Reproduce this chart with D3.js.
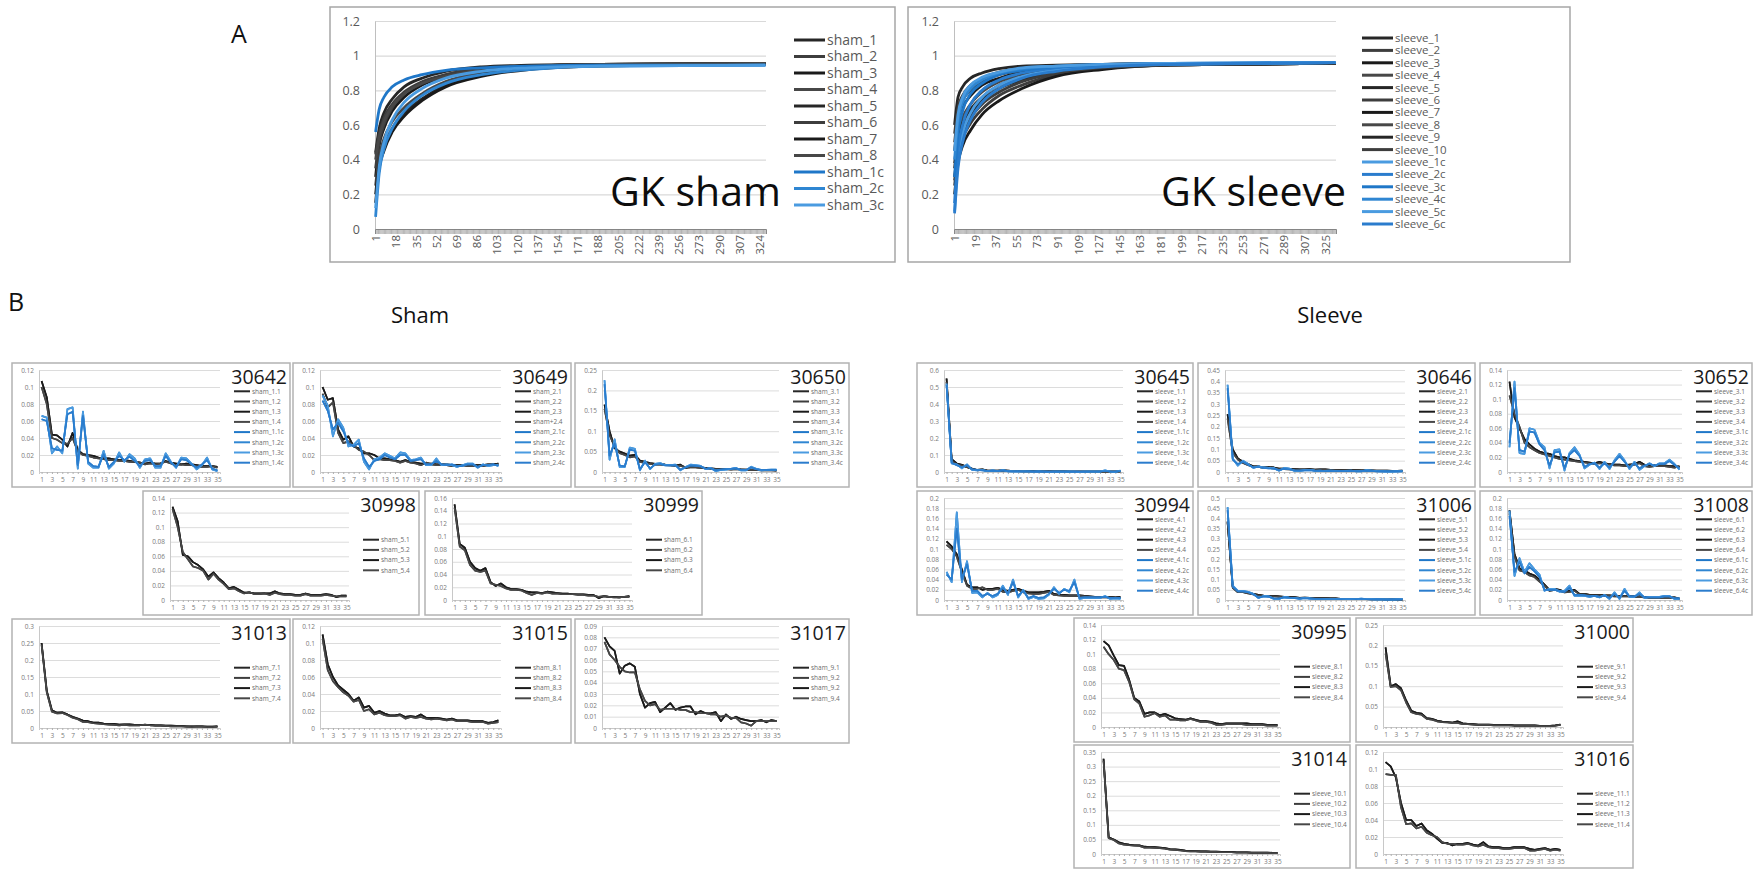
<!DOCTYPE html>
<html>
<head>
<meta charset="utf-8">
<script src="https://cdn.jsdelivr.net/npm/d3@7"></script>
<style>
 body { margin:0; background:#fff; }
 text { font-family: 'Open Sans', sans-serif; }
</style>
</head>
<body>
<svg id="fig" width="1753" height="869"></svg>
<script>

// ---------- A: cumulative curves, values read at knot positions ----------
const shamKnots   = [1,4,8,15,25,40,60,90,130,190,329];
const sleeveKnots = [1,4,8,15,25,40,60,90,130,190,334];
const shamXLabels   = d3.range(1, 330, 17);
const sleeveXLabels = d3.range(1, 335, 18);
const aYTicks = [0, 0.2, 0.4, 0.6, 0.8, 1, 1.2];

const shamNames = ['sham_1','sham_2','sham_3','sham_4','sham_5','sham_6','sham_7','sham_8','sham_1c','sham_2c','sham_3c'];
const sham_1  = [0.44,0.58,0.67,0.75,0.82,0.87,0.91,0.935,0.945,0.95,0.955];
const sham_2  = [0.43,0.55,0.64,0.72,0.79,0.85,0.89,0.925,0.94,0.95,0.955];
const sham_3  = [0.30,0.48,0.58,0.68,0.76,0.83,0.88,0.92,0.94,0.95,0.955];
const sham_4  = [0.25,0.42,0.52,0.62,0.70,0.78,0.85,0.90,0.93,0.945,0.95];
const sham_5  = [0.20,0.38,0.48,0.58,0.67,0.75,0.83,0.89,0.925,0.945,0.95];
const sham_6  = [0.35,0.50,0.60,0.70,0.78,0.84,0.89,0.925,0.94,0.95,0.955];
const sham_7  = [0.15,0.35,0.45,0.56,0.65,0.74,0.82,0.88,0.92,0.94,0.95];
const sham_8  = [0.40,0.53,0.62,0.71,0.78,0.84,0.88,0.92,0.94,0.95,0.955];
const sham_1c = [0.56,0.69,0.76,0.82,0.86,0.89,0.915,0.93,0.94,0.945,0.945];
const sham_2c = [0.07,0.32,0.46,0.58,0.68,0.77,0.84,0.89,0.92,0.94,0.945];
const sham_3c = [0.12,0.36,0.50,0.63,0.73,0.81,0.87,0.91,0.93,0.94,0.945];

const sleeveNames = ['sleeve_1','sleeve_2','sleeve_3','sleeve_4','sleeve_5','sleeve_6','sleeve_7','sleeve_8','sleeve_9','sleeve_10',
  'sleeve_1c','sleeve_2c','sleeve_3c','sleeve_4c','sleeve_5c','sleeve_6c'];
const sleeve_1  = [0.60,0.76,0.82,0.87,0.90,0.925,0.94,0.945,0.95,0.955,0.955];
const sleeve_2  = [0.55,0.70,0.77,0.83,0.87,0.905,0.925,0.94,0.95,0.955,0.955];
const sleeve_3  = [0.45,0.62,0.70,0.77,0.83,0.87,0.905,0.93,0.945,0.95,0.955];
const sleeve_4  = [0.38,0.55,0.64,0.72,0.79,0.85,0.89,0.925,0.94,0.95,0.955];
const sleeve_5  = [0.30,0.47,0.57,0.66,0.74,0.81,0.86,0.91,0.935,0.95,0.955];
const sleeve_6  = [0.25,0.42,0.52,0.61,0.69,0.77,0.83,0.89,0.925,0.945,0.955];
const sleeve_7  = [0.20,0.38,0.48,0.57,0.66,0.74,0.81,0.88,0.92,0.945,0.955];
const sleeve_8  = [0.50,0.66,0.74,0.80,0.85,0.89,0.915,0.935,0.945,0.95,0.955];
const sleeve_9  = [0.35,0.52,0.61,0.69,0.76,0.83,0.875,0.915,0.94,0.95,0.955];
const sleeve_10 = [0.28,0.45,0.55,0.64,0.72,0.79,0.85,0.90,0.93,0.945,0.955];
const sleeve_1c = [0.10,0.40,0.55,0.67,0.76,0.83,0.88,0.92,0.94,0.95,0.96];
const sleeve_2c = [0.15,0.45,0.60,0.72,0.80,0.86,0.90,0.93,0.945,0.95,0.96];
const sleeve_3c = [0.30,0.55,0.68,0.78,0.84,0.89,0.915,0.935,0.945,0.955,0.96];
const sleeve_4c = [0.40,0.62,0.73,0.81,0.86,0.90,0.925,0.94,0.95,0.955,0.96];
const sleeve_5c = [0.45,0.66,0.76,0.83,0.875,0.905,0.93,0.94,0.95,0.955,0.96];
const sleeve_6c = [0.09,0.35,0.50,0.63,0.73,0.81,0.87,0.91,0.935,0.95,0.96];

// ---------- B: per-animal profiles, 35 points each ----------
const cats35 = d3.range(1, 36);
const bXLabels = d3.range(1, 36, 2);

// sham
const s30642_k1 = [0.107,0.088,0.044,0.043,0.038,0.030,0.046,0.026,0.021,0.020,0.019,0.017,0.016,0.016,0.015,0.014,0.014,0.013,0.012,0.011,0.010,0.011,0.010,0.010,0.013,0.011,0.010,0.009,0.010,0.009,0.008,0.007,0.007,0.007,0.006];
const s30642_k2 = [0.100,0.080,0.040,0.038,0.034,0.033,0.040,0.024,0.020,0.019,0.017,0.016,0.015,0.014,0.014,0.013,0.013,0.012,0.012,0.011,0.009,0.010,0.009,0.010,0.012,0.010,0.008,0.009,0.008,0.008,0.007,0.006,0.006,0.007,0.005];
const s30642_b1 = [0.066,0.064,0.022,0.030,0.022,0.074,0.076,0.004,0.071,0.010,0.005,0.005,0.025,0.004,0.010,0.023,0.012,0.021,0.016,0.005,0.015,0.016,0.005,0.005,0.022,0.012,0.005,0.017,0.016,0.010,0.003,0.008,0.017,0.003,0.001];
const s30642_b2 = [0.062,0.060,0.028,0.026,0.025,0.068,0.071,0.008,0.066,0.012,0.007,0.006,0.021,0.006,0.012,0.019,0.014,0.018,0.013,0.007,0.013,0.014,0.007,0.007,0.019,0.011,0.006,0.015,0.014,0.009,0.005,0.009,0.014,0.004,0.002];

const s30649_k1 = [0.100,0.085,0.087,0.050,0.038,0.042,0.030,0.028,0.022,0.022,0.020,0.016,0.016,0.015,0.014,0.012,0.014,0.012,0.011,0.010,0.010,0.010,0.009,0.009,0.009,0.008,0.008,0.008,0.008,0.008,0.008,0.008,0.009,0.009,0.010];
const s30649_k2 = [0.092,0.076,0.082,0.046,0.034,0.036,0.031,0.026,0.024,0.020,0.014,0.015,0.014,0.014,0.013,0.011,0.013,0.011,0.010,0.008,0.011,0.009,0.008,0.008,0.008,0.007,0.007,0.008,0.007,0.007,0.007,0.007,0.008,0.008,0.009];
const s30649_b1 = [0.090,0.078,0.042,0.062,0.052,0.030,0.032,0.038,0.012,0.003,0.015,0.017,0.022,0.019,0.016,0.023,0.022,0.014,0.015,0.017,0.008,0.008,0.016,0.008,0.009,0.008,0.006,0.008,0.010,0.010,0.005,0.009,0.007,0.008,0.008];
const s30649_b2 = [0.084,0.072,0.050,0.058,0.048,0.034,0.030,0.034,0.016,0.006,0.013,0.015,0.020,0.017,0.015,0.020,0.020,0.013,0.014,0.015,0.009,0.009,0.013,0.009,0.008,0.009,0.007,0.007,0.009,0.009,0.006,0.008,0.008,0.009,0.007];

const s30650_k1 = [0.165,0.100,0.058,0.050,0.045,0.040,0.042,0.028,0.025,0.022,0.020,0.020,0.018,0.017,0.016,0.018,0.010,0.012,0.012,0.011,0.010,0.009,0.008,0.008,0.007,0.007,0.008,0.006,0.006,0.006,0.005,0.005,0.005,0.005,0.004];
const s30650_k2 = [0.155,0.090,0.062,0.046,0.042,0.036,0.038,0.025,0.022,0.020,0.018,0.018,0.017,0.016,0.015,0.015,0.012,0.011,0.011,0.010,0.009,0.008,0.007,0.007,0.007,0.006,0.007,0.006,0.005,0.005,0.005,0.004,0.004,0.004,0.003];
const s30650_b1 = [0.225,0.030,0.080,0.012,0.012,0.060,0.057,0.004,0.028,0.007,0.020,0.022,0.017,0.017,0.018,0.004,0.012,0.018,0.017,0.015,0.007,0.010,0.002,0.005,0.006,0.008,0.010,0.004,0.004,0.013,0.008,0.004,0.005,0.006,0.006];
const s30650_b2 = [0.215,0.040,0.070,0.016,0.014,0.055,0.052,0.007,0.024,0.009,0.018,0.020,0.016,0.016,0.017,0.006,0.011,0.016,0.015,0.014,0.008,0.009,0.004,0.006,0.007,0.008,0.009,0.005,0.005,0.011,0.007,0.005,0.005,0.005,0.005];

const s30998_k1 = [0.128,0.108,0.062,0.060,0.052,0.048,0.042,0.032,0.038,0.030,0.024,0.016,0.018,0.014,0.010,0.010,0.009,0.009,0.009,0.009,0.012,0.009,0.008,0.008,0.007,0.007,0.009,0.007,0.007,0.007,0.008,0.007,0.004,0.006,0.006];
const s30998_k2 = [0.125,0.100,0.066,0.056,0.046,0.044,0.040,0.028,0.036,0.028,0.022,0.015,0.016,0.012,0.009,0.011,0.008,0.008,0.009,0.007,0.010,0.008,0.007,0.007,0.006,0.006,0.008,0.006,0.006,0.006,0.007,0.006,0.005,0.005,0.005];

const s30999_k1 = [0.150,0.088,0.082,0.060,0.050,0.046,0.050,0.028,0.022,0.026,0.020,0.017,0.017,0.016,0.013,0.012,0.012,0.011,0.013,0.012,0.011,0.010,0.010,0.009,0.009,0.009,0.008,0.008,0.003,0.006,0.005,0.005,0.004,0.005,0.006];
const s30999_k2 = [0.145,0.084,0.078,0.055,0.046,0.044,0.046,0.026,0.024,0.022,0.018,0.016,0.016,0.015,0.011,0.008,0.011,0.010,0.012,0.010,0.010,0.009,0.009,0.009,0.008,0.008,0.007,0.007,0.005,0.006,0.005,0.004,0.004,0.005,0.005];

const s31013_k1 = [0.250,0.110,0.052,0.045,0.046,0.040,0.033,0.028,0.022,0.020,0.016,0.016,0.013,0.012,0.012,0.010,0.011,0.011,0.009,0.009,0.009,0.009,0.008,0.008,0.007,0.007,0.006,0.006,0.005,0.005,0.005,0.005,0.004,0.004,0.005];
const s31013_k2 = [0.245,0.105,0.048,0.043,0.044,0.038,0.030,0.026,0.018,0.017,0.014,0.013,0.011,0.010,0.009,0.008,0.009,0.008,0.008,0.008,0.010,0.008,0.007,0.007,0.006,0.005,0.005,0.005,0.004,0.003,0.004,0.004,0.003,0.003,0.004];

const s31015_k1 = [0.110,0.075,0.060,0.050,0.045,0.040,0.032,0.036,0.024,0.026,0.018,0.020,0.017,0.015,0.015,0.016,0.013,0.014,0.013,0.016,0.012,0.012,0.012,0.011,0.010,0.011,0.009,0.009,0.009,0.008,0.008,0.008,0.006,0.007,0.009];
const s31015_k2 = [0.105,0.068,0.055,0.048,0.042,0.038,0.031,0.033,0.020,0.022,0.016,0.018,0.015,0.014,0.014,0.015,0.011,0.013,0.012,0.013,0.011,0.010,0.011,0.010,0.009,0.010,0.008,0.008,0.008,0.007,0.007,0.007,0.005,0.006,0.007];

const s31017_k1 = [0.080,0.072,0.068,0.048,0.055,0.057,0.054,0.030,0.018,0.022,0.023,0.014,0.018,0.022,0.016,0.018,0.019,0.019,0.012,0.015,0.013,0.013,0.014,0.006,0.012,0.008,0.010,0.008,0.007,0.006,0.006,0.007,0.005,0.007,0.006];
const s31017_k2 = [0.076,0.065,0.060,0.054,0.050,0.049,0.049,0.034,0.024,0.020,0.021,0.016,0.017,0.017,0.017,0.016,0.016,0.014,0.014,0.013,0.013,0.012,0.012,0.010,0.011,0.009,0.009,0.005,0.004,0.002,0.006,0.006,0.006,0.006,0.006];

// sleeve
const s30645_k1 = [0.550,0.075,0.050,0.042,0.030,0.020,0.012,0.015,0.008,0.008,0.008,0.010,0.008,0.006,0.006,0.005,0.005,0.005,0.006,0.004,0.004,0.004,0.004,0.004,0.003,0.003,0.003,0.003,0.003,0.003,0.003,0.003,0.003,0.003,0.004];
const s30645_k2 = [0.530,0.065,0.045,0.038,0.028,0.018,0.010,0.012,0.007,0.007,0.007,0.008,0.007,0.005,0.005,0.004,0.004,0.004,0.005,0.003,0.003,0.003,0.003,0.003,0.002,0.002,0.002,0.002,0.002,0.002,0.002,0.002,0.002,0.002,0.003];
const s30645_b1 = [0.520,0.050,0.045,0.022,0.045,0.012,0.010,0.012,0.005,0.010,0.006,0.012,0.004,0.004,0.003,0.004,0.003,0.003,0.004,0.003,0.001,0.003,0.002,0.003,0.002,0.003,0.001,0.003,0.002,0.002,0.002,0.010,0.002,0.001,0.008];
const s30645_b2 = [0.510,0.055,0.040,0.028,0.040,0.015,0.012,0.010,0.006,0.008,0.005,0.010,0.005,0.003,0.004,0.003,0.004,0.002,0.003,0.002,0.002,0.002,0.003,0.002,0.003,0.002,0.002,0.002,0.003,0.003,0.003,0.006,0.003,0.002,0.006];

const s30646_k1 = [0.255,0.100,0.060,0.045,0.035,0.025,0.025,0.020,0.022,0.020,0.015,0.015,0.014,0.013,0.012,0.012,0.013,0.011,0.012,0.012,0.010,0.009,0.008,0.009,0.009,0.008,0.007,0.007,0.007,0.006,0.006,0.006,0.005,0.005,0.006];
const s30646_k2 = [0.235,0.085,0.055,0.040,0.030,0.023,0.022,0.018,0.018,0.016,0.013,0.013,0.012,0.011,0.010,0.010,0.010,0.009,0.010,0.010,0.008,0.008,0.007,0.008,0.007,0.007,0.006,0.006,0.005,0.005,0.005,0.005,0.004,0.004,0.005];
const s30646_b1 = [0.385,0.060,0.028,0.050,0.035,0.018,0.025,0.020,0.018,0.018,0.005,0.018,0.015,0.005,0.005,0.008,0.010,0.006,0.005,0.005,0.006,0.005,0.004,0.005,0.006,0.003,0.003,0.008,0.006,0.004,0.003,0.002,0.002,0.003,0.004];
const s30646_b2 = [0.370,0.055,0.035,0.045,0.032,0.020,0.022,0.018,0.016,0.015,0.008,0.015,0.012,0.007,0.006,0.007,0.008,0.005,0.006,0.004,0.005,0.004,0.005,0.004,0.005,0.004,0.004,0.006,0.005,0.003,0.004,0.003,0.003,0.004,0.003];

const s30652_k1 = [0.124,0.075,0.060,0.045,0.038,0.032,0.028,0.026,0.025,0.022,0.020,0.020,0.018,0.016,0.015,0.014,0.013,0.012,0.014,0.012,0.011,0.010,0.010,0.009,0.010,0.011,0.014,0.010,0.008,0.009,0.009,0.009,0.008,0.008,0.007];
const s30652_k2 = [0.105,0.080,0.062,0.040,0.034,0.030,0.026,0.024,0.022,0.020,0.018,0.017,0.016,0.015,0.014,0.013,0.012,0.011,0.012,0.011,0.010,0.009,0.009,0.008,0.009,0.010,0.012,0.008,0.007,0.008,0.008,0.008,0.007,0.006,0.008];
const s30652_b1 = [0.034,0.124,0.026,0.025,0.060,0.058,0.040,0.034,0.005,0.030,0.031,0.002,0.026,0.034,0.024,0.005,0.010,0.013,0.004,0.014,0.004,0.016,0.025,0.016,0.004,0.014,0.003,0.008,0.012,0.008,0.012,0.012,0.017,0.011,0.003];
const s30652_b2 = [0.040,0.115,0.030,0.028,0.056,0.054,0.038,0.030,0.009,0.027,0.028,0.005,0.024,0.030,0.022,0.007,0.011,0.012,0.006,0.012,0.006,0.014,0.022,0.014,0.006,0.012,0.005,0.009,0.011,0.009,0.011,0.011,0.015,0.010,0.005];

const s30994_k1 = [0.115,0.105,0.090,0.060,0.030,0.025,0.025,0.020,0.022,0.022,0.024,0.020,0.018,0.020,0.022,0.018,0.015,0.015,0.015,0.016,0.018,0.012,0.010,0.010,0.009,0.009,0.009,0.008,0.007,0.006,0.006,0.006,0.006,0.005,0.006];
const s30994_k2 = [0.108,0.100,0.085,0.055,0.028,0.022,0.022,0.025,0.020,0.020,0.022,0.016,0.015,0.018,0.020,0.015,0.013,0.012,0.012,0.014,0.016,0.010,0.009,0.008,0.008,0.008,0.008,0.007,0.006,0.005,0.005,0.005,0.005,0.004,0.004];
const s30994_b1 = [0.055,0.035,0.172,0.035,0.076,0.014,0.015,0.005,0.014,0.005,0.010,0.028,0.010,0.040,0.005,0.020,0.002,0.006,0.002,0.003,0.010,0.025,0.012,0.022,0.015,0.040,0.002,0.004,0.004,0.004,0.004,0.008,0.002,0.003,0.002];
const s30994_b2 = [0.050,0.040,0.140,0.040,0.070,0.018,0.018,0.008,0.012,0.008,0.012,0.024,0.013,0.035,0.008,0.018,0.004,0.008,0.004,0.005,0.012,0.022,0.014,0.020,0.018,0.035,0.004,0.005,0.005,0.005,0.005,0.006,0.004,0.004,0.004];

const s31006_k1 = [0.385,0.065,0.040,0.040,0.035,0.030,0.025,0.022,0.020,0.020,0.018,0.016,0.015,0.014,0.010,0.012,0.010,0.010,0.009,0.009,0.008,0.008,0.006,0.006,0.006,0.005,0.005,0.005,0.004,0.004,0.004,0.003,0.003,0.003,0.003];
const s31006_k2 = [0.380,0.060,0.038,0.038,0.032,0.028,0.022,0.020,0.018,0.018,0.016,0.014,0.013,0.012,0.008,0.010,0.009,0.009,0.008,0.008,0.007,0.007,0.005,0.005,0.005,0.004,0.004,0.004,0.003,0.003,0.003,0.002,0.002,0.002,0.002];
const s31006_b1 = [0.455,0.070,0.045,0.045,0.040,0.030,0.010,0.020,0.018,0.005,0.005,0.015,0.012,0.010,0.006,0.010,0.008,0.006,0.005,0.006,0.006,0.005,0.005,0.004,0.004,0.004,0.007,0.004,0.004,0.003,0.003,0.003,0.002,0.003,0.004];
const s31006_b2 = [0.440,0.065,0.042,0.042,0.038,0.028,0.012,0.018,0.016,0.008,0.007,0.013,0.011,0.009,0.007,0.009,0.007,0.006,0.006,0.005,0.005,0.005,0.004,0.005,0.005,0.004,0.006,0.004,0.003,0.004,0.003,0.002,0.003,0.003,0.003];

const s31008_k1 = [0.176,0.090,0.062,0.058,0.052,0.048,0.040,0.030,0.020,0.022,0.020,0.016,0.018,0.020,0.012,0.012,0.010,0.010,0.010,0.009,0.009,0.008,0.008,0.008,0.008,0.007,0.007,0.006,0.005,0.005,0.005,0.005,0.005,0.005,0.003];
const s31008_k2 = [0.170,0.085,0.058,0.055,0.048,0.045,0.036,0.028,0.018,0.020,0.018,0.015,0.016,0.018,0.011,0.011,0.009,0.009,0.009,0.008,0.008,0.007,0.007,0.007,0.007,0.006,0.006,0.005,0.004,0.004,0.004,0.004,0.004,0.004,0.002];
const s31008_b1 = [0.175,0.047,0.082,0.055,0.072,0.060,0.050,0.018,0.022,0.022,0.016,0.018,0.028,0.008,0.008,0.008,0.006,0.008,0.005,0.010,0.002,0.015,0.002,0.022,0.006,0.006,0.015,0.004,0.006,0.006,0.006,0.008,0.008,0.002,0.002];
const s31008_b2 = [0.165,0.055,0.075,0.052,0.065,0.056,0.045,0.020,0.020,0.020,0.018,0.016,0.024,0.010,0.010,0.009,0.007,0.008,0.006,0.009,0.004,0.012,0.004,0.018,0.007,0.007,0.012,0.005,0.005,0.005,0.005,0.007,0.007,0.003,0.003];

const s30995_k1 = [0.118,0.112,0.098,0.085,0.084,0.065,0.040,0.035,0.018,0.020,0.020,0.016,0.018,0.015,0.012,0.011,0.010,0.012,0.010,0.008,0.008,0.007,0.005,0.004,0.005,0.005,0.005,0.005,0.005,0.004,0.004,0.004,0.003,0.003,0.003];
const s30995_k2 = [0.110,0.100,0.092,0.080,0.078,0.062,0.038,0.032,0.014,0.016,0.019,0.014,0.016,0.010,0.010,0.009,0.009,0.011,0.009,0.007,0.007,0.006,0.003,0.003,0.004,0.004,0.004,0.004,0.003,0.003,0.003,0.003,0.002,0.002,0.002];

const s31000_k1 = [0.195,0.100,0.105,0.095,0.065,0.040,0.035,0.033,0.022,0.020,0.016,0.013,0.012,0.011,0.014,0.009,0.008,0.007,0.006,0.006,0.006,0.005,0.005,0.005,0.005,0.004,0.004,0.004,0.004,0.004,0.003,0.003,0.003,0.004,0.006];
const s31000_k2 = [0.180,0.098,0.100,0.090,0.060,0.036,0.032,0.030,0.020,0.018,0.014,0.012,0.011,0.010,0.010,0.007,0.007,0.006,0.005,0.005,0.005,0.004,0.004,0.004,0.004,0.003,0.003,0.003,0.003,0.003,0.002,0.002,0.002,0.003,0.005];

const s31014_k1 = [0.327,0.057,0.050,0.040,0.035,0.032,0.030,0.030,0.025,0.024,0.024,0.022,0.020,0.017,0.016,0.014,0.012,0.011,0.010,0.009,0.009,0.008,0.008,0.007,0.007,0.007,0.006,0.006,0.006,0.005,0.005,0.005,0.005,0.004,0.004];
const s31014_k2 = [0.320,0.054,0.048,0.036,0.032,0.030,0.029,0.028,0.022,0.022,0.021,0.020,0.018,0.015,0.014,0.012,0.010,0.009,0.009,0.008,0.008,0.007,0.007,0.006,0.006,0.006,0.005,0.005,0.005,0.004,0.004,0.004,0.004,0.003,0.003];

const s31016_k1 = [0.108,0.103,0.090,0.060,0.040,0.040,0.033,0.036,0.028,0.024,0.018,0.013,0.013,0.010,0.012,0.012,0.013,0.011,0.010,0.014,0.009,0.008,0.008,0.007,0.007,0.008,0.008,0.008,0.006,0.005,0.006,0.007,0.005,0.006,0.005];
const s31016_k2 = [0.094,0.093,0.093,0.055,0.035,0.036,0.030,0.032,0.025,0.022,0.020,0.014,0.012,0.012,0.011,0.011,0.012,0.010,0.009,0.011,0.008,0.007,0.007,0.006,0.006,0.007,0.007,0.007,0.004,0.004,0.005,0.006,0.004,0.005,0.004];

// legend names
function names(prefix, withC) {
  const n = [1,2,3,4].map(i => prefix + '.' + i);
  return withC ? n.concat([1,2,3,4].map(i => prefix + '.' + i + 'c')) : n;
}
const n30649 = ['sham_2.1','sham_2.2','sham_2.3','sham+2.4','sham_2.1c','sham_2.2c','sham_2.3c','sham_2.4c'];
const n31017 = ['sham_9.1','sham_9.2','sham_9.2','sham_9.4'];

// panel table: id, box [x,y,w,h], y max, y step, legend, series
const panelsB = [
  {id:'30642', box:[12,363,278,124],  ymax:0.12, step:0.02, leg:names('sham_1',true),  ser:[s30642_k1,s30642_k2,s30642_k1,s30642_k2,s30642_b1,s30642_b2,s30642_b1,s30642_b2]},
  {id:'30649', box:[293,363,278,124], ymax:0.12, step:0.02, leg:n30649,                  ser:[s30649_k1,s30649_k2,s30649_k1,s30649_k2,s30649_b1,s30649_b2,s30649_b1,s30649_b2]},
  {id:'30650', box:[575,363,274,124], ymax:0.25, step:0.05, leg:names('sham_3',true),  ser:[s30650_k1,s30650_k2,s30650_k1,s30650_k2,s30650_b1,s30650_b2,s30650_b1,s30650_b2]},
  {id:'30998', box:[143,491,276,124], ymax:0.14, step:0.02, leg:names('sham_5',false), ser:[s30998_k1,s30998_k2,s30998_k1,s30998_k2]},
  {id:'30999', box:[425,491,277,124], ymax:0.16, step:0.02, leg:names('sham_6',false), ser:[s30999_k1,s30999_k2,s30999_k1,s30999_k2]},
  {id:'31013', box:[12,619,278,124],  ymax:0.3,  step:0.05, leg:names('sham_7',false), ser:[s31013_k1,s31013_k2,s31013_k1,s31013_k2]},
  {id:'31015', box:[293,619,278,124], ymax:0.12, step:0.02, leg:names('sham_8',false), ser:[s31015_k1,s31015_k2,s31015_k1,s31015_k2]},
  {id:'31017', box:[575,619,274,124], ymax:0.09, step:0.01, leg:n31017,                 ser:[s31017_k1,s31017_k2,s31017_k1,s31017_k2]},

  {id:'30645', box:[917,363,276,124],  ymax:0.6,  step:0.1,  leg:names('sleeve_1',true), ser:[s30645_k1,s30645_k2,s30645_k1,s30645_k2,s30645_b1,s30645_b2,s30645_b1,s30645_b2]},
  {id:'30646', box:[1198,363,277,124], ymax:0.45, step:0.05, leg:names('sleeve_2',true), ser:[s30646_k1,s30646_k2,s30646_k1,s30646_k2,s30646_b1,s30646_b2,s30646_b1,s30646_b2]},
  {id:'30652', box:[1480,363,272,124], ymax:0.14, step:0.02, leg:names('sleeve_3',true), ser:[s30652_k1,s30652_k2,s30652_k1,s30652_k2,s30652_b1,s30652_b2,s30652_b1,s30652_b2]},
  {id:'30994', box:[917,491,276,124],  ymax:0.2,  step:0.02, leg:names('sleeve_4',true), ser:[s30994_k1,s30994_k2,s30994_k1,s30994_k2,s30994_b1,s30994_b2,s30994_b1,s30994_b2]},
  {id:'31006', box:[1198,491,277,124], ymax:0.5,  step:0.05, leg:names('sleeve_5',true), ser:[s31006_k1,s31006_k2,s31006_k1,s31006_k2,s31006_b1,s31006_b2,s31006_b1,s31006_b2]},
  {id:'31008', box:[1480,491,272,124], ymax:0.2,  step:0.02, leg:names('sleeve_6',true), ser:[s31008_k1,s31008_k2,s31008_k1,s31008_k2,s31008_b1,s31008_b2,s31008_b1,s31008_b2]},
  {id:'30995', box:[1074,618,276,124], ymax:0.14, step:0.02, leg:names('sleeve_8',false), ser:[s30995_k1,s30995_k2,s30995_k1,s30995_k2]},
  {id:'31000', box:[1356,618,277,124], ymax:0.25, step:0.05, leg:names('sleeve_9',false), ser:[s31000_k1,s31000_k2,s31000_k1,s31000_k2]},
  {id:'31014', box:[1074,745,276,123], ymax:0.35, step:0.05, leg:names('sleeve_10',false), ser:[s31014_k1,s31014_k2,s31014_k1,s31014_k2]},
  {id:'31016', box:[1356,745,277,123], ymax:0.12, step:0.02, leg:names('sleeve_11',false), ser:[s31016_k1,s31016_k2,s31016_k1,s31016_k2]}
];

const svg = d3.select('#fig');
const blacks = ['#262626','#3d3d3d','#1a1a1a','#474747'];
const blues  = ['#1f77c8','#2f86d2','#4a9be0','#2a7ccd'];
const grey = '#595959';

// ---------- panel A ----------
function drawA(c) {
  const [bx,by,bw,bh] = c.box;
  const g = svg.append('g');
  g.append('rect').attr('x',bx).attr('y',by).attr('width',bw).attr('height',bh)
    .attr('fill','#fff').attr('stroke','#a6a6a6').attr('stroke-width',1.5);

  const x = d3.scalePoint().domain(d3.range(1, c.n + 1)).range([c.pl, c.pr]).padding(0.5);
  const y = d3.scaleLinear().domain([0, 1.2]).range([c.pb, c.pt]);

  g.append('g').attr('transform', `translate(${c.pl},0)`)
    .call(d3.axisLeft(y).tickValues(aYTicks.slice(1)).tickSize(-(c.pr - c.pl)).tickFormat(''))
    .call(a => a.select('.domain').remove())
    .selectAll('line').attr('stroke','#d9d9d9').attr('stroke-width',1.2);

  g.append('g').attr('transform', `translate(${c.pl},0)`)
    .call(d3.axisLeft(y).tickValues(aYTicks).tickSize(0).tickPadding(15).tickFormat(d => String(d)))
    .call(a => a.select('.domain').attr('stroke','#bfbfbf'))
    .selectAll('text').attr('fill',grey).attr('font-size',12.5).attr('font-family','Open Sans');

  // dense category ticks
  g.append('g').attr('transform', `translate(0,${c.pb})`)
    .call(d3.axisBottom(x).tickValues(x.domain()).tickSize(5).tickFormat(''))
    .call(a => a.select('.domain').attr('stroke','#8c8c8c'))
    .selectAll('line').attr('stroke','#7f7f7f').attr('stroke-width',0.6);

  g.append('g').attr('transform', `translate(0,${c.pb})`)
    .call(d3.axisBottom(x).tickValues(c.xLabels).tickSize(0).tickFormat(d => String(d)))
    .call(a => a.select('.domain').remove())
    .selectAll('text')
      .attr('transform','rotate(-90)').attr('text-anchor','end')
      .attr('x',-6).attr('y',0).attr('dy','0.35em')
      .attr('fill',grey).attr('font-size',11.5).attr('font-family','Open Sans');

  const line = d3.line().x(d => x(d[0])).y(d => y(d[1])).curve(d3.curveMonotoneX);
  c.series.forEach((s, i) => {
    const col = c.names[i].endsWith('c') ? blues[i % 4] : blacks[i % 4];
    g.append('path').datum(c.knots.map((k, j) => [k, s[j]]))
      .attr('d', line).attr('fill','none').attr('stroke',col)
      .attr('stroke-width',2.8).attr('stroke-linejoin','round');
  });

  const lg = g.append('g');
  c.names.forEach((nm, i) => {
    const yy = c.legY + i * c.legDy;
    const col = nm.endsWith('c') ? blues[i % 4] : blacks[i % 4];
    lg.append('line').attr('x1',c.legX).attr('x2',c.legX + 31).attr('y1',yy).attr('y2',yy)
      .attr('stroke',col).attr('stroke-width',3);
    lg.append('text').attr('x',c.legX + 33).attr('y',yy).attr('dy','0.35em')
      .attr('font-size',c.legFont).attr('fill',grey).text(nm);
  });

  g.append('text').attr('x',c.title[0]).attr('y',c.title[1]).attr('font-size',41)
    .attr('fill','#0d0d0d').text(c.titleText);
}

drawA({box:[330,7,565,255], n:329, pl:375, pr:766, pt:21, pb:229, knots:shamKnots, xLabels:shamXLabels,
  series:[sham_1,sham_2,sham_3,sham_4,sham_5,sham_6,sham_7,sham_8,sham_1c,sham_2c,sham_3c], names:shamNames,
  legX:794, legY:40, legDy:16.5, legFont:14, title:[610,206], titleText:'GK sham'});

drawA({box:[908,7,662,255], n:334, pl:954, pr:1336, pt:21, pb:229, knots:sleeveKnots, xLabels:sleeveXLabels,
  series:[sleeve_1,sleeve_2,sleeve_3,sleeve_4,sleeve_5,sleeve_6,sleeve_7,sleeve_8,sleeve_9,sleeve_10,
          sleeve_1c,sleeve_2c,sleeve_3c,sleeve_4c,sleeve_5c,sleeve_6c], names:sleeveNames,
  legX:1362, legY:38, legDy:12.4, legFont:11.5, title:[1161,206], titleText:'GK sleeve'});

// ---------- panel B ----------
function drawB(p) {
  const [bx,by,bw,bh] = p.box;
  const g = svg.append('g');
  g.append('rect').attr('x',bx).attr('y',by).attr('width',bw).attr('height',bh)
    .attr('fill','#fff').attr('stroke','#b3b3b3').attr('stroke-width',1.5);

  const pl = bx + 27, pr = bx + bw - 70, pt = by + 7, pb = by + 109;
  const x = d3.scalePoint().domain(cats35).range([pl, pr]).padding(0.5);
  const y = d3.scaleLinear().domain([0, p.ymax]).range([pb, pt]);
  const ticks = d3.range(0, p.ymax + p.step / 2, p.step).map(v => +v.toFixed(3));

  g.append('g').attr('transform', `translate(${pl},0)`)
    .call(d3.axisLeft(y).tickValues(ticks.slice(1)).tickSize(-(pr - pl)).tickFormat(''))
    .call(a => a.select('.domain').remove())
    .selectAll('line').attr('stroke','#dcdcdc');

  g.append('g').attr('transform', `translate(${pl},0)`)
    .call(d3.axisLeft(y).tickValues(ticks).tickSize(0).tickPadding(5).tickFormat(d => String(d)))
    .call(a => a.select('.domain').attr('stroke','#c8c8c8'))
    .selectAll('text').attr('fill','#7a7a7a').attr('font-size',6.5).attr('font-family','Open Sans');

  g.append('g').attr('transform', `translate(0,${pb})`)
    .call(d3.axisBottom(x).tickValues(cats35).tickSize(2).tickFormat(''))
    .call(a => a.select('.domain').attr('stroke','#c8c8c8'))
    .selectAll('line').attr('stroke','#b0b0b0');

  g.append('g').attr('transform', `translate(0,${pb})`)
    .call(d3.axisBottom(x).tickValues(bXLabels).tickSize(0).tickPadding(5).tickFormat(d => String(d)))
    .call(a => a.select('.domain').remove())
    .selectAll('text').attr('fill','#7a7a7a').attr('font-size',6.5).attr('font-family','Open Sans');

  const line = d3.line().x((d, i) => x(i + 1)).y(d => y(d));
  p.ser.forEach((s, i) => {
    const col = i < 4 ? blacks[i] : blues[i - 4];
    g.append('path').datum(s).attr('d', line).attr('fill','none').attr('stroke',col)
      .attr('stroke-width',1.7).attr('stroke-linejoin','round');
  });

  g.append('text').attr('x', bx + bw - 3).attr('y', by + 21).attr('text-anchor','end')
    .attr('font-size',19.5).attr('fill','#1a1a1a').text(p.id);

  const dy = 10.2, y0 = by + 64 - (p.leg.length - 1) * dy / 2;
  p.leg.forEach((nm, i) => {
    const yy = y0 + i * dy;
    const col = i < 4 ? blacks[i] : blues[i - 4];
    g.append('line').attr('x1', bx + bw - 56).attr('x2', bx + bw - 40).attr('y1', yy).attr('y2', yy)
      .attr('stroke', col).attr('stroke-width', 2);
    g.append('text').attr('x', bx + bw - 38).attr('y', yy).attr('dy','0.35em')
      .attr('font-size',6.5).attr('fill','#6b6b6b').text(nm);
  });
}

panelsB.forEach(drawB);

// ---------- labels ----------
svg.append('text').attr('x',239).attr('y',43).attr('text-anchor','middle').attr('font-size',25).attr('fill','#111').text('A');
svg.append('text').attr('x',16).attr('y',311).attr('text-anchor','middle').attr('font-size',25).attr('fill','#111').text('B');
svg.append('text').attr('x',420).attr('y',323).attr('text-anchor','middle').attr('font-size',22).attr('fill','#111').text('Sham');
svg.append('text').attr('x',1330).attr('y',323).attr('text-anchor','middle').attr('font-size',22).attr('fill','#111').text('Sleeve');

</script>
</body>
</html>
